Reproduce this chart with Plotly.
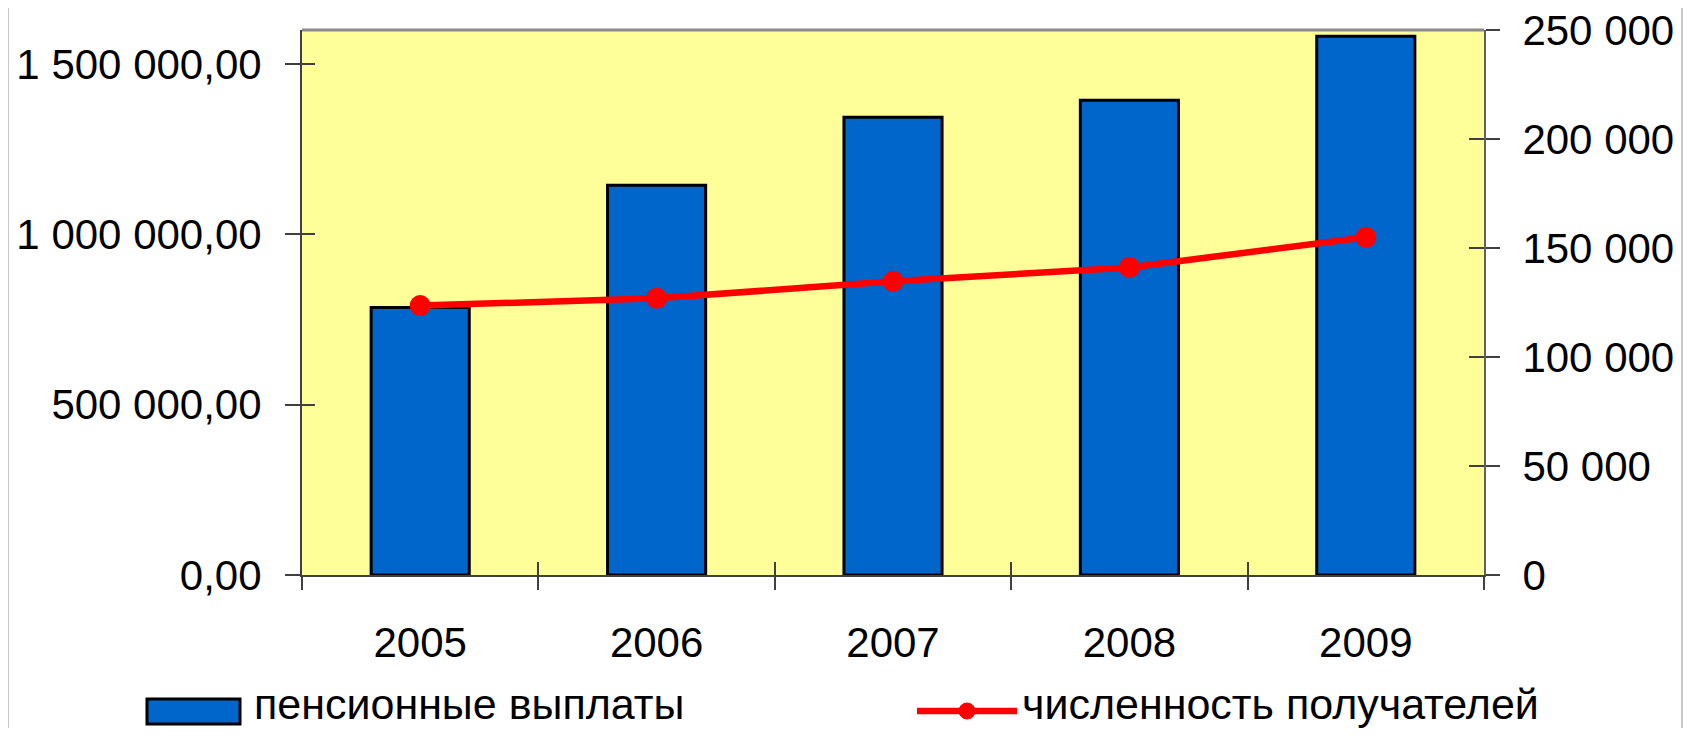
import plotly.graph_objects as go

years = ["2005", "2006", "2007", "2008", "2009"]
payments = [785000, 1144000, 1344000, 1394000, 1582000]        # пенсионные выплаты (left axis)
recipients = [123600, 126900, 134700, 141100, 154900]          # численность получателей (right axis)
name_bar = "пенсионные выплаты"
name_line = "численность получателей"
left_ticks = [0, 500000, 1000000, 1500000]
right_ticks = [0, 50000, 100000, 150000, 200000, 250000]

FONT = "Arial, 'Liberation Sans', sans-serif"
BLUE = "#0066CC"
RED = "#FF0000"

# the page body has an 8px margin, so the figure starts at screen (8, 8)
OFF = 8
W, H = 1694 - 2 * OFF, 736 - 2 * OFF
ML = 302 - OFF
MT = 30 - OFF
MR = (1694 - OFF) - 1484
MB = (736 - OFF) - 575
PW, PH = W - ML - MR, H - MT - MB


def px(sx):
    """screen x -> paper x"""
    return (sx - OFF - ML) / PW


def py(sy):
    """screen y -> paper y"""
    return (H + OFF - MB - sy) / PH


fig = go.Figure()
fig.add_trace(go.Bar(
    x=years, y=payments, name=name_bar, width=0.415,
    marker=dict(color=BLUE, line=dict(color="black", width=3)),
    showlegend=False, yaxis="y",
))
fig.add_trace(go.Scatter(
    x=years, y=recipients, name=name_line, mode="lines+markers",
    line=dict(color=RED, width=6.5), marker=dict(color=RED, size=21),
    showlegend=False, yaxis="y2",
))
# empty traces so the overlay axes (inner halves of crossing ticks) are drawn
fig.add_trace(go.Scatter(x=[], y=[], xaxis="x2", yaxis="y3", showlegend=False, hoverinfo="skip"))
fig.add_trace(go.Scatter(x=[], y=[], xaxis="x2", yaxis="y4", showlegend=False, hoverinfo="skip"))

ytickfont = dict(family=FONT, size=42, color="black")
xtickfont = dict(family=FONT, size=42, color="black")

fig.update_layout(
    width=W, height=H,
    margin=dict(l=ML, r=MR, t=MT, b=MB, autoexpand=False),
    paper_bgcolor="white", plot_bgcolor="#FFFF99",
    separators=", ",
    font=dict(family=FONT, color="black"),
    xaxis=dict(
        type="category", range=[-0.5, 4.5], tickson="boundaries",
        ticks="outside", ticklen=13, tickwidth=1.5, tickcolor="#404040",
        showline=True, linecolor="#404040", linewidth=2,
        showgrid=False, zeroline=False, tickfont=xtickfont,
        ticklabelstandoff=30, automargin=False,
    ),
    xaxis2=dict(
        overlaying="x", anchor="y", type="linear", range=[-0.5, 4.5],
        tickvals=[-0.5, 0.5, 1.5, 2.5, 3.5, 4.5], ticks="inside", ticklen=13,
        tickwidth=1.5, tickcolor="#404040", showticklabels=False,
        showgrid=False, zeroline=False, showline=False, automargin=False,
    ),
    yaxis=dict(
        range=[0, 1600000], tickvals=left_ticks, tickformat=",.2f",
        ticks="outside", ticklen=15, tickwidth=1.5, tickcolor="#404040",
        showline=True, linecolor="#404040", linewidth=2,
        showgrid=False, zeroline=False, tickfont=ytickfont,
        ticklabelstandoff=15, ticklabeloverflow="allow", automargin=False,
    ),
    yaxis2=dict(
        overlaying="y", side="right", range=[0, 250000], tickvals=right_ticks,
        tickformat=",d", ticks="outside", ticklen=14, tickwidth=1.5,
        tickcolor="#404040", showline=True, linecolor="#606060", linewidth=2,
        showgrid=False, zeroline=False, tickfont=ytickfont,
        ticklabelstandoff=14, ticklabeloverflow="allow", automargin=False,
    ),
    yaxis3=dict(
        overlaying="y", side="left", anchor="x2", range=[0, 1600000], tickvals=left_ticks,
        ticks="inside", ticklen=13, tickwidth=1.5, tickcolor="#404040",
        showticklabels=False, showgrid=False, zeroline=False, showline=False,
        automargin=False,
    ),
    yaxis4=dict(
        overlaying="y", side="right", anchor="x2", range=[0, 250000], tickvals=right_ticks,
        ticks="inside", ticklen=15, tickwidth=1.5, tickcolor="#404040",
        showticklabels=False, showgrid=False, zeroline=False, showline=False,
        automargin=False,
    ),
)

shapes = [
    # top border of plot area
    dict(type="line", xref="paper", yref="paper", x0=0, x1=1, y0=1, y1=1,
         line=dict(color="#8a8a8a", width=3)),
    # outer chart frame (left and right edges)
    dict(type="line", xref="paper", yref="paper", x0=px(8), x1=px(8), y0=py(736), y1=py(0),
         line=dict(color="#c8c8c8", width=2)),
    dict(type="line", xref="paper", yref="paper", x0=px(1682), x1=px(1682), y0=py(736), y1=py(0),
         line=dict(color="#c8c8c8", width=2)),
    # legend: bar symbol
    dict(type="rect", xref="paper", yref="paper", x0=px(147), x1=px(240), y0=py(724), y1=py(699),
         fillcolor=BLUE, line=dict(color="black", width=3)),
    # legend: line symbol
    dict(type="line", xref="paper", yref="paper", x0=px(917), x1=px(1017), y0=py(711), y1=py(711),
         line=dict(color=RED, width=6.5)),
    dict(type="circle", xref="paper", yref="paper", x0=px(959), x1=px(975), y0=py(719), y1=py(703),
         fillcolor=RED, line=dict(color=RED, width=1)),
]
fig.update_layout(shapes=shapes)

legfont = dict(family=FONT, size=43, color="black")
fig.add_annotation(text=name_bar, xref="paper", yref="paper", x=px(252), y=py(704),
                   xanchor="left", yanchor="middle", showarrow=False, font=legfont)
fig.add_annotation(text=name_line, xref="paper", yref="paper", x=px(1020), y=py(704),
                   xanchor="left", yanchor="middle", showarrow=False, font=legfont)

fig.write_html("out.html")
